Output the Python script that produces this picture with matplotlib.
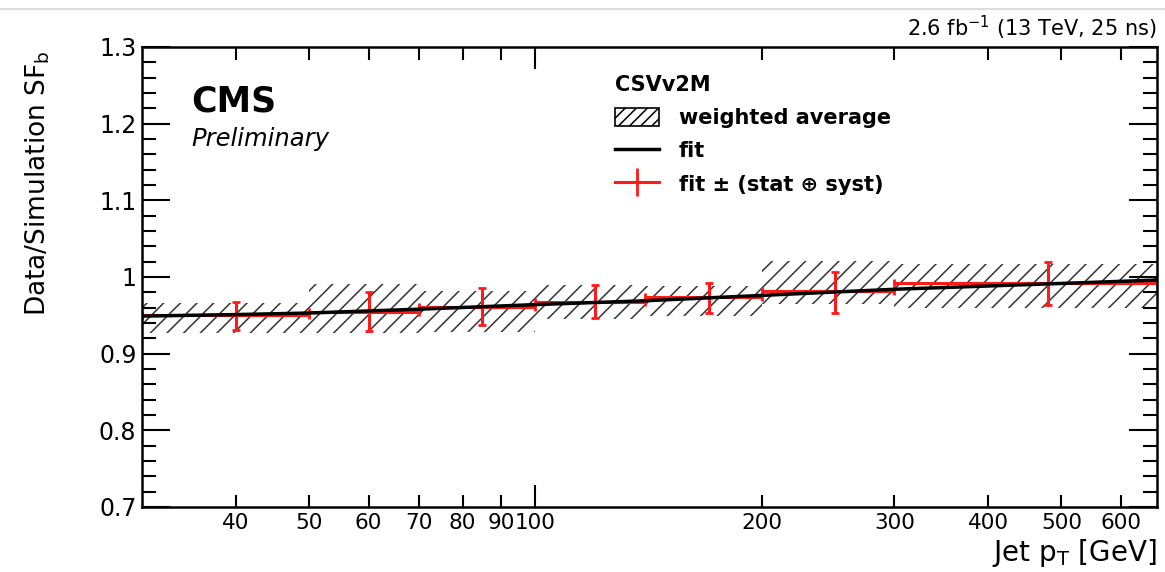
import numpy as np
import matplotlib
matplotlib.use("Agg")
from matplotlib import pyplot as plt
from matplotlib.patches import Patch
from matplotlib.lines import Line2D
from matplotlib.ticker import FixedLocator, FixedFormatter

plt.rcParams['font.family'] = ['DejaVu Sans']
plt.rcParams['mathtext.fontset'] = 'dejavusans'
plt.rcParams['hatch.linewidth'] = 1.1

# pt bins
bin_lo = [30, 50, 70, 100, 140, 200, 300]
bin_hi = [50, 70, 100, 140, 200, 300, 670]
bin_pt = [40, 60, 85, 120, 170, 250, 480]

# weighted average band
wavg_lo = [0.927, 0.927, 0.928, 0.945, 0.949, 0.965, 0.960]
wavg_hi = [0.966, 0.991, 0.982, 0.990, 0.988, 1.021, 1.017]

# fit value per bin and its stat+syst error
sf_bin = [0.951, 0.954, 0.961, 0.968, 0.974, 0.982, 0.992]
sf_up = [0.017, 0.027, 0.025, 0.022, 0.018, 0.024, 0.028]
sf_down = [0.020, 0.024, 0.023, 0.021, 0.021, 0.029, 0.028]

# fit curve
fit_pt = [30, 40, 50, 70, 100, 140, 200, 300, 480, 670]
fit_sf = [0.949, 0.951, 0.953, 0.958, 0.964, 0.969, 0.976, 0.984, 0.991, 0.996]

xtick_vals = [40, 50, 60, 70, 80, 90, 200, 300, 400, 500, 600]

fig = plt.figure(figsize=(11.65, 5.72), dpi=100)
ax = fig.add_axes([142/1165, 65/572, 1015/1165, 460/572])

lo = np.array(bin_lo)
hi = np.array(bin_hi)
ax.bar(lo, np.array(wavg_hi) - np.array(wavg_lo), width=hi - lo, bottom=wavg_lo,
       align='edge', fill=False, hatch='//', edgecolor='#333333', linewidth=0, zorder=1)

c = np.array(bin_pt)
ax.errorbar(c, sf_bin, xerr=[c - lo, hi - c], yerr=[sf_down, sf_up], fmt='none',
            ecolor='#ff1a1a', elinewidth=2.2, capsize=3, capthick=2, zorder=2)
ax.plot(fit_pt, fit_sf, color='black', lw=2.5, zorder=3)

ax.set_xscale('log')
ax.set_xlim(30, 670)
ax.set_ylim(0.7, 1.3)

ax.xaxis.set_major_locator(FixedLocator([100]))
ax.xaxis.set_major_formatter(FixedFormatter(['100']))
ax.xaxis.set_minor_locator(FixedLocator(xtick_vals))
ax.xaxis.set_minor_formatter(FixedFormatter([str(v) for v in xtick_vals]))
ax.set_yticks([0.7, 0.8, 0.9, 1.0, 1.1, 1.2, 1.3])
ax.set_yticklabels(['0.7', '0.8', '0.9', '1', '1.1', '1.2', '1.3'])
ax.yaxis.set_minor_locator(FixedLocator(np.arange(0.72, 1.3, 0.02)))

ax.tick_params(which='both', direction='in', top=True, right=True, width=1.5, colors='black')
ax.tick_params(axis='x', which='major', length=16, labelsize=15.5, pad=4)
ax.tick_params(axis='x', which='minor', length=9, labelsize=15.5, pad=4)
ax.tick_params(axis='y', which='major', length=20, labelsize=17, pad=4)
ax.tick_params(axis='y', which='minor', length=10)
for s in ax.spines.values():
    s.set_linewidth(1.8)

ax.set_xlabel('Jet p$_\\mathrm{T}$ [GeV]', fontsize=20, loc='right')
ax.xaxis.set_label_coords(1.0, -0.066)
ax.set_ylabel('Data/Simulation SF$_\\mathrm{b}$', fontsize=19, loc='top')
ax.yaxis.set_label_coords(-0.089, 0.993)

ax.text(0.049, 0.859, 'CMS', transform=ax.transAxes, fontsize=25, fontweight='bold', va='baseline')
ax.text(0.049, 0.785, 'Preliminary', transform=ax.transAxes, fontsize=17.5, style='italic',
        va='baseline')
ax.text(1.0, 1.024, '2.6 fb$^{-1}$ (13 TeV, 25 ns)', transform=ax.transAxes, fontsize=15,
        ha='right', va='baseline')

handles = [Patch(facecolor='white', edgecolor='black', hatch='///', linewidth=1.2),
           Line2D([], [], color='black', lw=2.5),
           Line2D([], [], color='#ff1a1a', lw=2.2, marker='|', markersize=20, markeredgewidth=2)]
labels = ['weighted average', 'fit', 'fit \u00b1 (stat \u2295 syst)']
leg = ax.legend(handles, labels, title='CSVv2M', loc='upper left', bbox_to_anchor=(0.466, 0.94),
                frameon=False, borderpad=0, borderaxespad=0, handlelength=2.1, handleheight=1.0,
                handletextpad=0.95, labelspacing=0.62, alignment='left',
                prop={'size': 15, 'weight': 'bold'},
                title_fontproperties={'size': 15, 'weight': 'bold'})

fig.add_artist(Line2D([0, 1], [1 - 9/572, 1 - 9/572], transform=fig.transFigure,
                      color='#dddddd', lw=1.5))

fig.savefig('out.png', dpi=100)
